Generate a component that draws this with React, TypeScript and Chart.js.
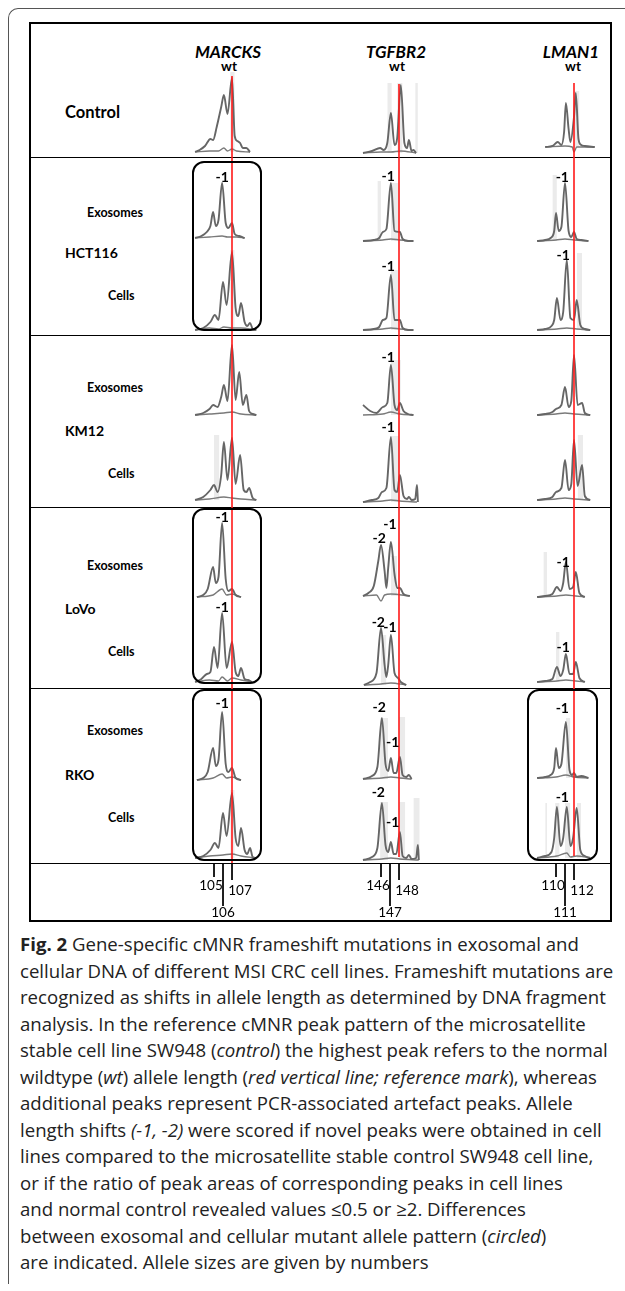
import React, { useEffect, useRef } from "react";
import { Chart, registerables } from "chart.js";
Chart.register(...registerables);

type P = [number, number];

// ---------------- DATA ----------------
const genes = ["MARCKS", "TGFBR2", "LMAN1"];
const wtSizes = [107, 148, 112];
const sizeTicks = [
  [105, 106, 107],
  [146, 147, 148],
  [110, 111, 112],
];
const cellLines = ["HCT116", "KM12", "LoVo", "RKO"];
const sampleTypes = ["Exosomes", "Cells"];

// rows: 0 control, 1 HCT116 exo, 2 HCT116 cells, 3 KM12 exo, 4 KM12 cells,
// 5 LoVo exo, 6 LoVo cells, 7 RKO exo, 8 RKO cells
const marcksTraces: P[][] = [
  [[102.9,0],[103.4,2],[104.0,6],[104.6,13],[104.9,12],[105.3,25],[105.8,45],[106.1,57],[106.5,38],[107.0,74],[107.3,16],[107.6,11],[107.9,9],[108.2,4],[108.6,4],[109.0,0]],
  [[102.9,0],[103.6,2],[104.2,6],[104.6,12],[104.9,26],[105.2,12],[105.5,18],[105.9,55],[106.3,15],[106.6,10],[107.0,15],[107.3,4],[107.8,2],[108.4,0]],
  [[102.9,0],[103.8,2],[104.6,8],[105.1,15],[105.5,10],[106.0,48],[106.4,25],[107.0,78],[107.4,22],[107.7,14],[108.0,27],[108.4,8],[108.7,4],[109.0,7],[109.3,1],[109.7,0]],
  [[102.9,0],[103.8,2],[104.5,6],[104.9,10],[105.4,8],[105.8,18],[106.1,30],[106.5,14],[107.0,70],[107.4,15],[107.8,43],[108.2,10],[108.6,20],[108.9,4],[109.3,1],[109.7,0]],
  [[102.9,0],[103.8,3],[104.6,10],[105.0,15],[105.4,8],[105.8,25],[106.1,58],[106.5,20],[107.0,62],[107.4,16],[107.9,45],[108.3,10],[108.6,8],[108.9,12],[109.3,2],[109.7,0]],
  [[103.1,0],[103.8,2],[104.3,8],[104.9,30],[105.2,14],[105.5,20],[105.9,74],[106.3,18],[106.6,6],[107.0,8],[107.4,2],[108.0,0]],
  [[102.9,0],[103.6,3],[104.2,8],[104.6,10],[105.0,35],[105.4,14],[105.9,69],[106.4,14],[107.0,40],[107.4,10],[107.7,6],[108.0,14],[108.4,3],[108.8,2],[109.2,0]],
  [[103.1,0],[103.8,2],[104.3,8],[104.9,32],[105.2,14],[105.5,20],[105.9,68],[106.3,16],[106.6,8],[107.0,12],[107.4,2],[108.0,0]],
  [[102.9,0],[103.8,2],[104.6,8],[105.1,15],[105.5,10],[106.0,45],[106.4,22],[107.0,65],[107.4,20],[107.7,12],[108.0,30],[108.4,8],[108.7,4],[109.0,10],[109.3,1],[109.7,0]],
];
const tgfbr2Traces: P[][] = [
  [[144.0,0],[145.0,2],[145.9,5],[146.3,3],[146.7,10],[147.1,40],[147.5,8],[147.8,15],[148.2,68],[148.6,10],[148.9,5],[149.1,13],[149.4,2],[149.6,3],[149.9,0]],
  [[144.0,0],[145.2,1],[145.8,3],[146.2,9],[146.6,12],[147.1,58],[147.5,10],[148.1,9],[148.4,2],[149.0,0],[149.6,0]],
  [[144.0,0],[145.2,1],[145.8,3],[146.2,10],[146.6,12],[147.1,55],[147.5,10],[148.1,10],[148.4,2],[149.0,0],[149.6,0]],
  [[144.0,10],[144.8,4],[145.5,2],[146.2,8],[146.7,12],[147.1,50],[147.5,10],[147.8,5],[148.1,12],[148.5,4],[149.0,1],[149.6,0]],
  [[144.0,0],[145.0,2],[145.7,4],[146.1,10],[146.6,14],[147.1,65],[147.5,12],[147.8,10],[148.1,27],[148.5,6],[148.9,3],[149.1,5],[149.4,2],[149.8,3],[150.0,17],[150.1,0]],
  [[144.0,0],[144.6,3],[145.2,10],[145.7,35],[146.0,51],[146.4,25],[146.6,8],[146.8,28],[147.1,54],[147.5,22],[147.8,8],[148.1,8],[148.5,2],[149.2,0]],
  [[144.1,0],[144.8,3],[145.5,12],[146.0,57],[146.4,20],[146.6,8],[146.8,20],[147.1,50],[147.5,12],[147.9,7],[148.2,3],[148.8,0]],
  [[144.0,0],[145.0,3],[145.6,12],[146.1,61],[146.5,15],[146.8,8],[147.1,21],[147.4,6],[147.7,6],[148.1,22],[148.4,4],[148.8,2],[149.1,4],[149.4,0]],
  [[144.0,0],[145.0,3],[145.6,12],[146.1,57],[146.5,15],[146.8,8],[147.1,18],[147.4,6],[147.7,6],[148.1,28],[148.4,4],[148.8,2],[149.1,5],[149.4,1],[149.9,2],[150.1,15],[150.2,0]],
];
const lman1Traces: P[][] = [
  [[108.8,0],[109.6,1],[110.2,5],[110.6,2],[110.9,15],[111.1,44],[111.4,18],[111.6,5],[112.0,30],[112.2,54],[112.5,8],[112.8,2],[113.2,1],[114.3,0]],
  [[107.9,0],[108.8,1],[109.4,3],[109.8,10],[110.0,28],[110.3,10],[110.6,14],[111.0,58],[111.4,10],[111.7,4],[112.0,9],[112.3,2],[112.8,1],[113.6,0]],
  [[107.9,0],[108.8,1],[109.5,4],[109.8,10],[110.1,32],[110.5,10],[110.8,18],[111.2,70],[111.6,12],[112.0,10],[112.3,30],[112.7,5],[113.2,1],[113.8,0]],
  [[107.9,0],[108.8,1],[109.6,3],[110.0,6],[110.6,10],[111.0,28],[111.4,8],[111.7,14],[112.0,60],[112.4,10],[112.9,12],[113.2,2],[113.8,0]],
  [[107.9,0],[108.8,1],[109.6,3],[110.0,8],[110.6,12],[111.0,40],[111.4,10],[111.7,16],[112.0,60],[112.4,14],[112.9,35],[113.2,4],[113.8,0]],
  [[107.9,0],[108.8,1],[109.6,3],[110.1,10],[110.5,6],[110.8,14],[111.1,35],[111.5,8],[111.9,10],[112.2,25],[112.6,4],[113.2,0]],
  [[107.9,0],[108.8,1],[109.6,3],[110.1,15],[110.5,6],[110.8,12],[111.1,28],[111.5,8],[111.9,8],[112.2,20],[112.6,4],[113.2,0]],
  [[107.9,0],[108.8,1],[109.4,3],[109.8,10],[110.0,30],[110.3,10],[110.6,14],[111.1,56],[111.5,8],[111.8,3],[112.0,5],[112.3,1],[112.8,2],[113.6,0]],
  [[107.9,0],[108.8,2],[109.5,6],[109.8,20],[110.1,51],[110.5,12],[110.8,20],[111.2,51],[111.6,12],[111.9,20],[112.3,50],[112.7,8],[113.2,2],[113.8,0]],
];
const traceSets = [marcksTraces, tgfbr2Traces, lman1Traces];

// second (lower) electropherogram trace
const marcksLow: P[][] = [
  [[102.9,0],[104.5,1],[105.5,1],[106.1,4],[106.5,1],[107.0,3],[107.5,1],[109.0,0]],
  [[102.9,0],[104.5,1],[105.9,2],[106.5,1],[107.5,1],[108.4,0]],
  [[102.9,0],[104.5,2],[105.5,1],[106.1,3],[107.0,2],[108.0,2],[109.7,0]],
  [[102.9,0],[104.5,1],[106.1,2],[107.0,3],[108.0,1],[109.7,0]],
  [[102.9,0],[104.5,1],[106.1,3],[107.0,2],[108.0,1],[109.7,0]],
  [[103.1,0],[104.9,2],[105.9,8],[106.4,2],[107.0,3],[108.0,0]],
  [[102.9,0],[104.5,2],[105.5,1],[105.9,5],[106.5,1],[107.0,4],[108.0,2],[109.2,0]],
  [[103.1,0],[104.9,2],[105.9,6],[106.4,2],[107.0,3],[108.0,0]],
  [[102.9,0],[104.5,2],[106.0,3],[107.0,4],[108.0,2],[109.7,0]],
];
const tgfbr2Low: P[][] = [
  [[144.0,0],[146.0,1],[147.1,1],[148.2,2],[149.9,0]],
  [[144.0,0],[146.2,1],[147.1,2],[148.1,1],[149.6,0]],
  [[144.0,0],[146.2,1],[147.1,2],[148.1,1],[149.6,0]],
  [[144.0,0],[146.2,1],[147.1,3],[148.1,1],[149.6,0]],
  [[144.0,0],[146.2,1],[147.1,2],[148.1,1],[150.0,0]],
  [[144.0,0],[145.5,1],[146.0,-5],[146.4,1],[147.1,2],[149.2,0]],
  [[144.1,0],[146.0,1],[147.1,2],[148.8,0]],
  [[144.0,0],[146.1,1],[147.1,2],[148.1,1],[149.4,0]],
  [[144.0,0],[146.1,1],[147.1,2],[148.1,1],[150.2,0]],
];
const lman1Low: P[][] = [
  [[108.8,0],[111.0,1],[111.8,0],[112.0,-5],[112.3,0],[114.3,0]],
  [[107.9,0],[110.0,1],[111.0,2],[112.0,1],[113.6,0]],
  [[107.9,0],[110.1,1],[111.2,2],[112.3,1],[113.8,0]],
  [[107.9,0],[110.0,1],[111.0,2],[112.0,1],[113.8,0]],
  [[107.9,0],[110.0,1],[111.0,2],[112.0,1],[113.8,0]],
  [[107.9,0],[110.1,1],[111.1,2],[112.2,1],[113.2,0]],
  [[107.9,0],[110.1,1],[111.1,2],[112.2,1],[113.2,0]],
  [[107.9,0],[110.0,1],[111.1,3],[112.0,1],[113.6,0]],
  [[107.9,0],[110.1,2],[111.2,5],[111.6,1],[112.3,2],[113.8,0]],
];
const lowSets = [marcksLow, tgfbr2Low, lman1Low];

// grey bins behind peaks: [from bp, to bp, height]
type Band = [number, number, number];
const marcksBands: Band[][] = [
  [[106.8,107.3,80]], [], [[106.8,107.3,80]], [], [[105.0,105.6,65]], [], [], [], [[106.8,107.3,68]],
];
const tgfbr2Bands: Band[][] = [
  [[146.7,147.2,70],[147.8,148.4,70],[149.8,150.1,70]],
  [[145.6,146.0,60],[147.1,147.9,58]],
  [[147.1,147.9,60]],
  [[147.1,148.2,55]],
  [[147.1,148.0,66]],
  [[147.1,147.8,40]],
  [[146.0,146.6,50]],
  [[145.9,146.8,61],[148.0,148.7,62]],
  [[145.9,146.8,58],[148.0,148.7,58],[149.6,150.3,62]],
];
const lman1Bands: Band[][] = [
  [[112.0,112.6,56]],
  [[109.6,110.1,66]],
  [[112.3,112.9,77]],
  [],
  [[112.4,113.0,65]],
  [[108.6,109.0,45]],
  [[110.0,110.4,50]],
  [[111.1,111.6,60]],
  [[108.8,109.0,55],[109.9,110.4,55],[111.0,111.6,55],[112.3,112.8,55]],
];
const bandSets = [marcksBands, tgfbr2Bands, lman1Bands];

// mutation labels: [text, bp] per row per gene
type Mark = [string, number];
const marcksMarks: Mark[][] = [[], [["-1",105.9]], [], [], [], [["-1",105.9]], [["-1",105.9]], [["-1",105.9]], []];
const tgfbr2Marks: Mark[][] = [[], [["-1",146.8]], [["-1",146.8]], [["-1",146.8]], [["-1",146.8]], [["-1",147.0],["-2",145.8]], [["-2",145.7],["-1",147.0]], [["-2",145.8],["-1",147.3]], [["-2",145.7],["-1",147.3]]];
const lman1Marks: Mark[][] = [[], [["-1",110.7]], [["-1",110.8]], [], [], [["-1",110.8]], [["-1",110.8]], [["-1",110.7]], [["-1",110.7]]];
const markSets = [marcksMarks, tgfbr2Marks, lman1Marks];

// circled (differences between exosomes and cells): [gene col, cell line index]
const circled: [number, number][] = [[0, 0], [0, 2], [0, 3], [2, 3]];

const captionLines = [
  "cellular DNA of different MSI CRC cell lines. Frameshift mutations are",
  "recognized as shifts in allele length as determined by DNA fragment",
  "analysis. In the reference cMNR peak pattern of the microsatellite",
];

// ---------------- LAYOUT ----------------
const PX_PER_BP = 9;
const colWtX = [232, 399, 574];
const rowBase = [
  [152, 153, 147],
  [238, 241, 241],
  [330, 330, 330],
  [415, 415, 415],
  [500, 502, 500],
  [597, 596, 597],
  [682, 685, 682],
  [780, 779, 778],
  [858, 860, 858],
];
// label y positions (page px) for marks, per row per gene, per mark
const markY: number[][][] = [
  [[], [], []],
  [[177], [176], [177]],
  [[], [266], [255]],
  [[], [357], []],
  [[], [427], []],
  [[517], [524, 538], [562]],
  [[607], [622, 627], [647]],
  [[703], [707, 742], [708]],
  [[], [792, 822], [797]],
];
const rowSep = [157, 335, 507, 688, 863];
const lineBlocks = [
  { top: 157, bottom: 335, label: 253, exo: 213, cells: 296 },
  { top: 335, bottom: 507, label: 431, exo: 388, cells: 474 },
  { top: 507, bottom: 688, label: 609, exo: 566, cells: 652 },
  { top: 688, bottom: 863, label: 775, exo: 731, cells: 818 },
];
const circleX = [
  [192, 262],
  [0, 0],
  [527, 598],
];
const redTop = [76, 84, 83];
const redBottom = [863, 857, 856];
const tickEnds = [877, 906, 880];

const TABLE_FONT = "Lato, 'Open Sans', sans-serif";
const CAP_FONT = "'Open Sans', sans-serif";

const bpToX = (col: number, bp: number) => colWtX[col] + (bp - wtSizes[col]) * PX_PER_BP;

// ---------------- COMPONENTS ----------------
function CellChart({ col, row }: { col: number; row: number }) {
  const ref = useRef<HTMLCanvasElement>(null);
  const xMin = wtSizes[col] - 5;
  const xMax = wtSizes[col] + 3;
  const width = (xMax - xMin) * PX_PER_BP;
  const yMin = -8;
  const yMax = 92;
  const height = yMax - yMin;
  const left = bpToX(col, xMin);
  const top = rowBase[row][col] - yMax;
  useEffect(() => {
    const toXY = (a: P[]) => a.map(([x, y]) => ({ x, y }));
    const bands = bandSets[col][row].map((b) => ({
      data: [
        { x: b[0], y: 0 },
        { x: b[0], y: b[2] },
        { x: b[1], y: b[2] },
        { x: b[1], y: 0 },
      ],
      borderWidth: 0,
      borderColor: "rgba(0,0,0,0)",
      backgroundColor: "#ebebeb",
      fill: "origin",
      pointRadius: 0,
      tension: 0,
      order: 3,
    }));
    const chart = new Chart(ref.current!, {
      type: "line",
      data: {
        datasets: [
          ...bands,
          {
            data: toXY(lowSets[col][row]),
            borderColor: "#7a7a7a",
            borderWidth: 1.4,
            pointRadius: 0,
            cubicInterpolationMode: "monotone",
            fill: false,
            order: 2,
          },
          {
            data: toXY(traceSets[col][row]),
            borderColor: "#666666",
            borderWidth: 1.9,
            pointRadius: 0,
            cubicInterpolationMode: "monotone",
            fill: false,
            order: 1,
          },
        ] as any,
      },
      options: {
        animation: false,
        responsive: false,
        maintainAspectRatio: false,
        events: [],
        layout: { padding: 0 },
        plugins: { legend: { display: false }, tooltip: { enabled: false } },
        scales: {
          x: { type: "linear", min: xMin, max: xMax, display: false },
          y: { type: "linear", min: yMin, max: yMax, display: false },
        },
      },
    });
    return () => chart.destroy();
  }, []);
  return (
    <canvas
      ref={ref}
      width={width}
      height={height}
      style={{ position: "absolute", left, top, width, height }}
    />
  );
}

function ColumnOverlay({ col }: { col: number }) {
  const ref = useRef<HTMLCanvasElement>(null);
  const xMin = wtSizes[col] - 5;
  const xMax = wtSizes[col] + 3;
  const width = (xMax - xMin) * PX_PER_BP;
  const top = 60;
  const bottom = 920;
  const height = bottom - top;
  const left = bpToX(col, xMin);
  useEffect(() => {
    const ticks = sizeTicks[col].map((s, i) => ({
      data: [
        { x: s, y: rowSep[4] },
        { x: s, y: tickEnds[i] },
      ],
      borderColor: "#000",
      borderWidth: 1,
      pointRadius: 0,
      fill: false,
    }));
    const chart = new Chart(ref.current!, {
      type: "line",
      data: {
        datasets: [
          ...ticks,
          {
            data: [
              { x: wtSizes[col], y: redTop[col] },
              { x: wtSizes[col], y: redBottom[col] },
            ],
            borderColor: "#ff1a1a",
            borderWidth: 1.6,
            pointRadius: 0,
            fill: false,
          },
        ] as any,
      },
      options: {
        animation: false,
        responsive: false,
        maintainAspectRatio: false,
        events: [],
        layout: { padding: 0 },
        plugins: { legend: { display: false }, tooltip: { enabled: false } },
        scales: {
          x: { type: "linear", min: xMin, max: xMax, display: false },
          y: { type: "linear", min: top, max: bottom, reverse: true, display: false },
        },
      },
    });
    return () => chart.destroy();
  }, []);
  return (
    <canvas
      ref={ref}
      width={width}
      height={height}
      style={{ position: "absolute", left, top, width, height }}
    />
  );
}

function Txt({
  x, y, children, size = 12, bold = false, italic = false, align = "center", font = TABLE_FONT, color = "#000",
}: any) {
  const tx = align === "center" ? "-50%" : "0";
  return (
    <div
      style={{
        position: "absolute",
        left: x,
        top: y,
        transform: `translate(${tx}, -50%)`,
        fontFamily: font,
        fontSize: size,
        fontWeight: bold ? 700 : 400,
        fontStyle: italic ? "italic" : "normal",
        whiteSpace: "nowrap",
        lineHeight: 1,
        color,
      }}
    >
      {children}
    </div>
  );
}

export default function App() {
  const headerX = [228, 396, 571];
  const wtX = [229, 397, 573];
  const els: any[] = [];

  for (let col = 0; col < 3; col++) {
    for (let row = 0; row < 9; row++) {
      els.push(<CellChart key={`c${col}-${row}`} col={col} row={row} />);
    }
  }
  for (let col = 0; col < 3; col++) els.push(<ColumnOverlay key={`o${col}`} col={col} />);

  for (let col = 0; col < 3; col++) {
    for (let row = 0; row < 9; row++) {
      markSets[col][row].forEach((m, i) => {
        els.push(
          <Txt key={`m${col}-${row}-${i}`} x={bpToX(col, m[1])} y={markY[row][col][i]} size={14} bold>
            {m[0]}
          </Txt>
        );
      });
    }
  }

  circled.forEach(([col, li], i) => {
    const b = lineBlocks[li];
    const t = li === 0 ? b.top + 4 : b.top + 1;
    const bt = li === 3 ? b.bottom - 2 : b.bottom - 4;
    els.push(
      <div
        key={`circ${i}`}
        style={{
          position: "absolute",
          left: circleX[col][0],
          top: t,
          width: circleX[col][1] - circleX[col][0],
          height: bt - t,
          border: "2px solid #000",
          borderRadius: 12,
          boxSizing: "border-box",
        }}
      />
    );
  });

  for (let col = 0; col < 3; col++) {
    const [a, b, c] = sizeTicks[col];
    els.push(<Txt key={`t${col}a`} x={bpToX(col, a) - 3} y={886} size={13.5}>{a}</Txt>);
    els.push(<Txt key={`t${col}c`} x={bpToX(col, c) + 8} y={891} size={13.5}>{c}</Txt>);
    els.push(<Txt key={`t${col}b`} x={bpToX(col, b)} y={913} size={13.5}>{b}</Txt>);
  }

  return (
    <div style={{ position: "absolute", left: 0, top: 0, width: 625, height: 1291, overflow: "hidden", background: "#fff" }}>
      <div
        style={{
          position: "absolute",
          left: 8,
          top: 8,
          width: 660,
          height: 1275,
          borderLeft: "1px solid #555",
          borderTop: "1px solid #555",
          borderTopLeftRadius: 10,
        }}
      />
      <div
        style={{
          position: "absolute",
          left: 29,
          top: 22,
          width: 612 - 29,
          height: 922 - 22,
          border: "2px solid #000",
          boxSizing: "border-box",
        }}
      />
      {rowSep.map((y, i) => (
        <div key={`sep${i}`} style={{ position: "absolute", left: 30, width: 581, top: y, height: 1, background: "#000" }} />
      ))}

      {genes.map((g, i) => (
        <Txt key={g} x={headerX[i]} y={51} size={17} bold italic>{g}</Txt>
      ))}
      {genes.map((g, i) => (
        <Txt key={g + "wt"} x={wtX[i]} y={67} size={13.5} bold>wt</Txt>
      ))}

      <Txt x={65} y={112} size={16.5} bold align="left">Control</Txt>
      {cellLines.map((cl, i) => (
        <React.Fragment key={cl}>
          <Txt x={65} y={lineBlocks[i].label} size={14} bold align="left">{cl}</Txt>
          <Txt x={87} y={lineBlocks[i].exo} size={12.5} bold align="left">{sampleTypes[0]}</Txt>
          <Txt x={108} y={lineBlocks[i].cells} size={12.5} bold align="left">{sampleTypes[1]}</Txt>
        </React.Fragment>
      ))}

      {els}

      <div style={{ position: "absolute", left: 20, top: 931, fontFamily: CAP_FONT, fontSize: 18.6, lineHeight: "26.5px", color: "#222", whiteSpace: "nowrap" }}>
        <div><b>Fig. 2</b> Gene-specific cMNR frameshift mutations in exosomal and</div>
        {captionLines.map((l, i) => <div key={i}>{l}</div>)}
        <div>stable cell line SW948 (<i>control</i>) the highest peak refers to the normal</div>
        <div>wildtype (<i>wt</i>) allele length (<i>red vertical line; reference mark</i>), whereas</div>
        <div>additional peaks represent PCR-associated artefact peaks. Allele</div>
        <div>length shifts <i>(-1, -2)</i> were scored if novel peaks were obtained in cell</div>
        <div>lines compared to the microsatellite stable control SW948 cell line,</div>
        <div>or if the ratio of peak areas of corresponding peaks in cell lines</div>
        <div>and normal control revealed values ≤0.5 or ≥2. Differences</div>
        <div>between exosomal and cellular mutant allele pattern (<i>circled</i>)</div>
        <div>are indicated. Allele sizes are given by numbers</div>
      </div>
    </div>
  );
}
